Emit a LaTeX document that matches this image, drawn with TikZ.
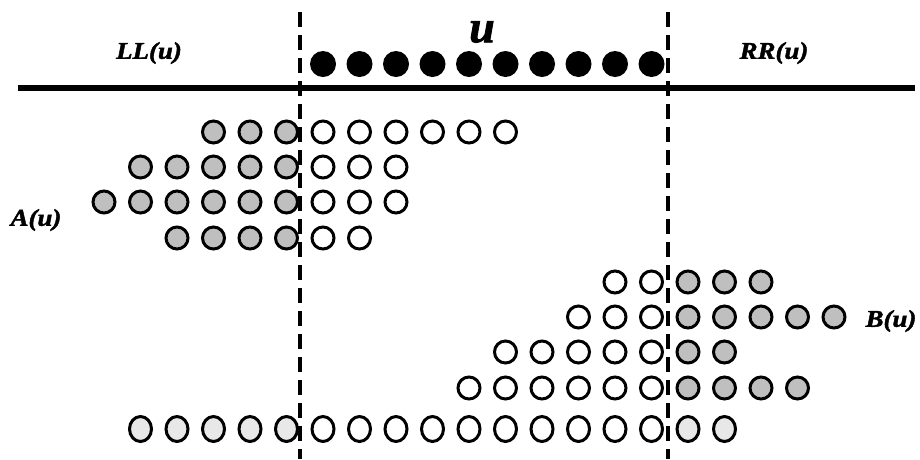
\documentclass[tikz,border=0pt]{standalone}
\usepackage{fontspec}
\setmainfont{Liberation Serif}
\newfontfamily\lblfont{Liberation Serif}[FakeBold=1.6]
\usetikzlibrary{shapes.geometric}
\newcommand{\widen}[1]{\scalebox{1.12}[1]{#1}}
\begin{document}
\begin{tikzpicture}[x=1pt,y=-1pt,
  dot/.style={circle,inner sep=0pt,minimum size=22pt,line width=3pt,draw=black},
  graydot/.style={dot,fill=gray!50},
  whitedot/.style={dot,fill=white},
  blackdot/.style={circle,inner sep=0pt,minimum size=26pt,fill=black},
  oval/.style={ellipse,inner sep=0pt,minimum width=22pt,minimum height=25pt,line width=3pt,draw=black},
  lightoval/.style={oval,fill=gray!18},
  whiteoval/.style={oval,fill=white},
  divider/.style={line width=4pt,dash pattern=on 15pt off 8pt},
  baseline rule/.style={line width=5.5pt},
  lbl/.style={inner sep=0pt,font=\fontsize{24}{24}\lblfont\bfseries\itshape},
  biglbl/.style={inner sep=0pt,font=\fontsize{46}{46}\lblfont\bfseries\itshape}]
\useasboundingbox (0,0) rectangle (920,459);
% top rule
\coordinate (hl) at (18,88);
\coordinate (hr) at (915,88);
\draw[baseline rule] (hl) -- (hr);
% labels
\node[lbl] (LL) at (149,53) {\widen{LL(u)}};
\node[lbl] (RR) at (774,53) {\widen{RR(u)}};
\node[biglbl] (U) at (482,32) {u};
\node[lbl] (A) at (36,220) {\widen{A(u)}};
\node[lbl] (B) at (891,321) {\widen{B(u)}};
% u: black dots
\foreach \k in {0,...,9} \node[blackdot] (u\k) at ({323+36.5*\k},64) {};
% A(u) rows
\foreach \k in {-3,...,-1} \node[graydot] (ra\k) at ({323+36.5*\k},132) {};
\foreach \k in {0,...,5} \node[whitedot] (ra\k) at ({323+36.5*\k},132) {};
\foreach \k in {-5,...,-1} \node[graydot] (rb\k) at ({323+36.5*\k},167) {};
\foreach \k in {0,...,2} \node[whitedot] (rb\k) at ({323+36.5*\k},167) {};
\foreach \k in {-6,...,-1} \node[graydot] (rc\k) at ({323+36.5*\k},202) {};
\foreach \k in {0,...,2} \node[whitedot] (rc\k) at ({323+36.5*\k},202) {};
\foreach \k in {-4,...,-1} \node[graydot] (rd\k) at ({323+36.5*\k},238) {};
\foreach \k in {0,...,1} \node[whitedot] (rd\k) at ({323+36.5*\k},238) {};
% B(u) rows
\foreach \k in {8,...,9} \node[whitedot] (re\k) at ({323+36.5*\k},282) {};
\foreach \k in {10,...,12} \node[graydot] (re\k) at ({323+36.5*\k},282) {};
\foreach \k in {7,...,9} \node[whitedot] (rf\k) at ({323+36.5*\k},317) {};
\foreach \k in {10,...,14} \node[graydot] (rf\k) at ({323+36.5*\k},317) {};
\foreach \k in {5,...,9} \node[whitedot] (rg\k) at ({323+36.5*\k},352) {};
\foreach \k in {10,...,11} \node[graydot] (rg\k) at ({323+36.5*\k},352) {};
\foreach \k in {4,...,9} \node[whitedot] (rh\k) at ({323+36.5*\k},388) {};
\foreach \k in {10,...,13} \node[graydot] (rh\k) at ({323+36.5*\k},388) {};
% bottom row
\foreach \k in {-5,...,-1} \node[lightoval] (ri\k) at ({323+36.5*\k},429) {};
\foreach \k in {0,...,9} \node[whiteoval] (ri\k) at ({323+36.5*\k},429) {};
\foreach \k in {10,...,11} \node[lightoval] (ri\k) at ({323+36.5*\k},429) {};
% dividers
\coordinate (dlt) at (300,12);
\coordinate (dlb) at (300,459);
\coordinate (drt) at (668,12);
\coordinate (drb) at (668,459);
\draw[divider] (dlt) -- (dlb);
\draw[divider] (drt) -- (drb);
\end{tikzpicture}
\end{document}
